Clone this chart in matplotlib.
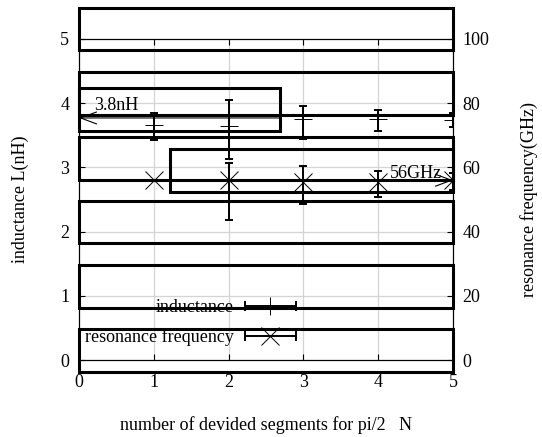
import matplotlib
matplotlib.use('Agg')
import matplotlib.pyplot as plt
from matplotlib.patches import Rectangle
from matplotlib.lines import Line2D
from matplotlib.legend_handler import HandlerBase

plt.rcParams['font.family'] = ['Liberation Serif', 'DejaVu Serif']
plt.rcParams['font.size'] = 13

# measured values
seg_n = [1, 2, 3, 4, 5]
ind_nh = [3.66, 3.65, 3.75, 3.75, 3.74]
ind_low = [3.43, 3.13, 3.44, 3.56, 3.63]
ind_high = [3.84, 4.05, 3.96, 3.89, 3.85]
freq_ghz = [56.0, 56.1, 55.3, 55.5, 56.0]
freq_low = [56.0, 43.6, 48.6, 50.9, 53.0]
freq_high = [56.0, 61.4, 60.4, 58.8, 58.4]

# thick boxes drawn over the plot (left axis units)
band_bottoms = [4.83, 3.82, 2.81, 1.82, 0.81, -0.19]
band_tops = [5.48, 4.48, 3.48, 2.47, 1.48, 0.48]
ind_box = (0.0, 2.69, 3.57, 4.23)     # x0, x1, y0, y1
freq_box = (1.22, 5.0, 2.62, 3.28)

ind_ref = 3.77
freq_ref = 56.0


class ErrKey(HandlerBase):
    """gnuplot style key sample: horizontal bar with end caps and a point"""
    def __init__(self, marker, ms):
        super().__init__()
        self.marker = marker
        self.ms = ms

    def create_artists(self, legend, orig_handle, xdescent, ydescent,
                       width, height, fontsize, trans):
        y = height / 2 - ydescent
        x0, x1 = -xdescent, width - xdescent
        bar = Line2D([x0, x1], [y, y], color='k', lw=1.4, transform=trans)
        caps = Line2D([x0, x1], [y, y], ls='none', marker='|', ms=7,
                      mew=1.4, color='k', transform=trans)
        pt = Line2D([(x0 + x1) / 2], [y], ls='none', marker=self.marker,
                    ms=self.ms, mew=0.7, color='k', transform=trans)
        return [bar, caps, pt]


fig = plt.figure(figsize=(5.42, 4.37), dpi=100)
ax = fig.add_axes([0.1458, 0.1762, 0.69, 0.7346])
ax2 = ax.twinx()

ax.set_xlim(0, 5)
ax.set_ylim(0, 5)
ax2.set_ylim(0, 100)

ax.set_axisbelow(True)
ax.grid(True, color='#d4d4d4', lw=0.9)
ax.tick_params(direction='in', length=4.5, width=0.8, top=True, right=False)
ax.tick_params(axis='x', pad=10)
ax.tick_params(axis='y', pad=7)
ax2.tick_params(direction='in', length=4.5, width=0.8, pad=7)
for a in (ax, ax2):
    for sp in a.spines.values():
        sp.set_linewidth(0.8)

lo = [m - l for m, l in zip(ind_nh, ind_low)]
hi = [h - m for m, h in zip(ind_nh, ind_high)]
ax.errorbar(seg_n, ind_nh, yerr=[lo, hi], fmt='none', ecolor='k',
            elinewidth=1.4, capsize=3.2, capthick=1.4)
ax.plot(seg_n, ind_nh, ls='none', marker='+', ms=13, mew=0.7, color='k')

lo = [m - l for m, l in zip(freq_ghz, freq_low)]
hi = [h - m for m, h in zip(freq_ghz, freq_high)]
ax2.errorbar(seg_n, freq_ghz, yerr=[lo, hi], fmt='none', ecolor='k',
             elinewidth=1.4, capsize=3.2, capthick=1.4)
ax2.plot(seg_n, freq_ghz, ls='none', marker='x', ms=13, mew=0.7, color='k')

for b, t in zip(band_bottoms, band_tops):
    ax.add_patch(Rectangle((0, b), 5, t - b, fill=False, lw=2.2,
                           ec='k', clip_on=False, zorder=4))
for x0, x1, y0, y1 in (ind_box, freq_box):
    ax.add_patch(Rectangle((x0, y0), x1 - x0, y1 - y0, fill=False, lw=2.2,
                           ec='k', clip_on=False, zorder=4))

arrow = dict(arrowstyle='->,head_length=1.15,head_width=0.43', lw=0.8,
             color='k', shrinkA=0, shrinkB=0, mutation_scale=10)
ax.annotate('', xy=(0, ind_ref), xytext=(ind_box[1], ind_ref), arrowprops=arrow)
ax2.annotate('', xy=(5, freq_ref), xytext=(freq_box[0], freq_ref), arrowprops=arrow)
ax.text(0.2, 3.96, '3.8nH', va='center', ha='left')
ax.text(4.16, 2.91, '56GHz', va='center', ha='left')

ax.set_xlabel('number of devided segments for pi/2   N')
ax.xaxis.set_label_coords(0.5, -0.175)
ax.set_ylabel('inductance L(nH)')
ax.yaxis.set_label_coords(-0.134, 0.5)
ax2.set_ylabel('resonance frequency(GHz)', rotation=90)
ax2.yaxis.set_label_coords(1.179, 0.5)

h_ind = Line2D([], [])
h_freq = Line2D([], [])
kw = dict(loc='center right', frameon=False, markerfirst=False,
          handlelength=2.83, handletextpad=0.6, borderpad=0, borderaxespad=0)
leg1 = ax2.legend([h_ind], ['inductance'], bbox_to_anchor=(0.5802, 0.162),
                  handler_map={h_ind: ErrKey('|', 13)}, **kw)
ax2.add_artist(leg1)
ax2.legend([h_freq], ['resonance frequency'], bbox_to_anchor=(0.5802, 0.0717),
           handler_map={h_freq: ErrKey('x', 13)}, **kw)

fig.savefig('out.png', dpi=100)
